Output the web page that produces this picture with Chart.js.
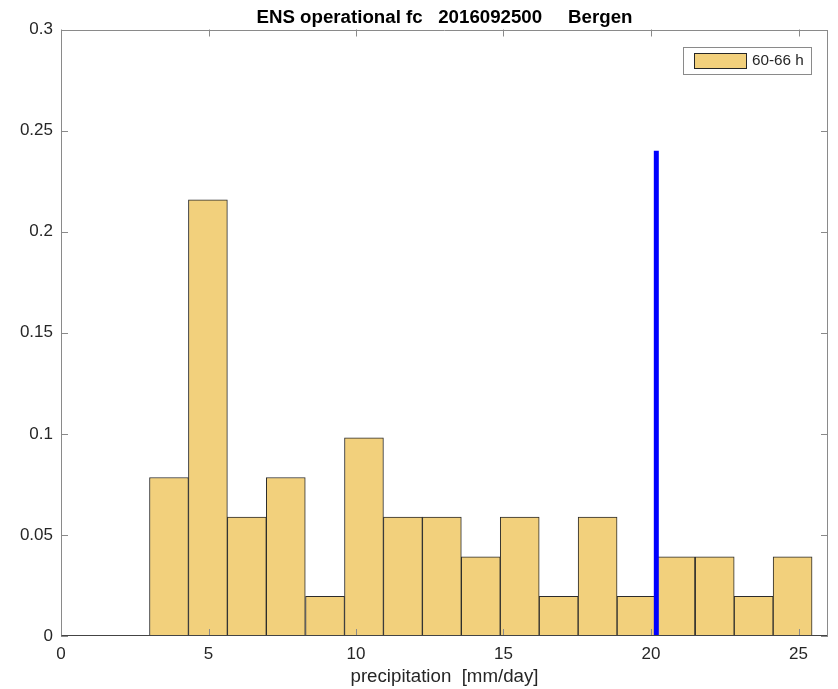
<!DOCTYPE html>
<html>
<head>
<meta charset="utf-8">
<title>ENS operational fc 2016092500 Bergen</title>
<script src="https://cdn.jsdelivr.net/npm/chart.js@4/dist/chart.umd.min.js"></script>
<style>
  html, body { margin: 0; padding: 0; background: #fff; }
  #wrap { width: 838px; height: 689px; }
</style>
</head>
<body>
<div id="wrap"><canvas id="histChart"></canvas></div>
<script>
'use strict';

// bin centres [mm/day] and relative frequency of the 51 members
const binCenters = [3.66, 4.98, 6.30, 7.62, 8.95, 10.27, 11.59, 12.91, 14.23,
  15.55, 16.87, 18.19, 19.51, 20.83, 22.16, 23.48, 24.80];
const frequencies = [0.0784, 0.2157, 0.0588, 0.0784, 0.0196, 0.0980, 0.0588, 0.0588,
  0.0392, 0.0588, 0.0196, 0.0588, 0.0196, 0.0392, 0.0392, 0.0196, 0.0392];

// observed precipitation, drawn as a vertical bar
const observedX = [20.18, 20.18];
const observedY = [0, 0.24];

const xTicks = [0, 5, 10, 15, 20, 25];
const yTicks = [0, 0.05, 0.1, 0.15, 0.2, 0.25, 0.3];

const seriesLabel = '60-66 h';
const titleText = 'ENS operational fc   2016092500     Bergen';
const xTitle = 'precipitation  [mm/day]';

const textColor = '#262626';
const fontFamily = 'Arial, "Liberation Sans", Helvetica, sans-serif';

var ctx = document.getElementById('histChart').getContext('2d');

// matlab-style box: frame on all sides, ticks pointing inwards
const boxAxes = {
  id: 'boxAxes',
  afterDatasetsDraw(chart) {
    const c = chart.ctx;
    const a = chart.chartArea;
    const xs = chart.scales.x;
    const ys = chart.scales.y;
    const len = 7;
    c.save();
    c.lineWidth = 1;
    c.strokeStyle = '#8a8a8a';
    xs.ticks.forEach(t => {
      const px = Math.round(xs.getPixelForValue(t.value)) + 0.5;
      c.beginPath();
      c.moveTo(px, a.bottom); c.lineTo(px, a.bottom - len);
      c.moveTo(px, a.top); c.lineTo(px, a.top + len);
      c.stroke();
    });
    ys.ticks.forEach(t => {
      const py = Math.round(ys.getPixelForValue(t.value)) + 0.5;
      c.beginPath();
      c.moveTo(a.left, py); c.lineTo(a.left + len, py);
      c.moveTo(a.right, py); c.lineTo(a.right - len, py);
      c.stroke();
    });
    const l = Math.round(a.left) + 0.5, r = Math.round(a.right) - 0.5;
    const t = Math.round(a.top) + 0.5, b = Math.round(a.bottom) - 0.5;
    c.beginPath();
    c.moveTo(l, b); c.lineTo(l, t); c.lineTo(r, t); c.lineTo(r, b);
    c.stroke();
    c.strokeStyle = '#444444';
    c.beginPath();
    c.moveTo(l, b); c.lineTo(r, b);
    c.stroke();
    c.restore();
  }
};

// legend box inside the upper right corner
const insideLegend = {
  id: 'insideLegend',
  afterDraw(chart) {
    const c = chart.ctx;
    const a = chart.chartArea;
    const ds = chart.data.datasets.find(d => d.type === 'bar');
    const w = 128, h = 27;
    const x0 = a.right - 17 - w;
    const y0 = a.top + 17.5;
    c.save();
    c.fillStyle = '#ffffff';
    c.fillRect(x0, y0, w, h);
    c.strokeStyle = '#8a8a8a';
    c.lineWidth = 1;
    c.strokeRect(Math.round(x0) + 0.5, Math.round(y0) + 0.5, w, h);
    c.fillStyle = ds.backgroundColor;
    c.fillRect(x0 + 11, y0 + 6, 52, 15);
    c.strokeStyle = '#262626';
    c.strokeRect(Math.round(x0 + 11) + 0.5, Math.round(y0 + 6) + 0.5, 52, 15);
    c.fillStyle = textColor;
    c.font = '15.3px ' + fontFamily;
    c.textBaseline = 'middle';
    c.fillText(ds.label, x0 + 69, y0 + h / 2 + 0.5);
    c.restore();
  }
};

var myChart = new Chart(ctx, {
  type: 'bar',
  data: {
    datasets: [
      {
        type: 'line',
        label: 'observed',
        data: observedX.map((x, i) => ({ x: x, y: observedY[i] })),
        borderColor: '#0000ff',
        borderWidth: 5,
        borderCapStyle: 'butt',
        pointRadius: 0,
        fill: false,
        order: 0
      },
      {
        type: 'bar',
        label: seriesLabel,
        data: binCenters.map((x, i) => ({ x: x, y: frequencies[i] })),
        backgroundColor: '#f2d07c',
        borderColor: '#2b2b2b',
        borderWidth: 1,
        borderSkipped: false,
        barPercentage: 1,
        categoryPercentage: 1,
        order: 1
      }
    ]
  },
  options: {
    responsive: true,
    maintainAspectRatio: false,
    animation: false,
    layout: { padding: { left: 0, right: 10, top: 0, bottom: 0 } },
    plugins: {
      legend: { display: false },
      tooltip: { enabled: false },
      title: {
        display: true,
        fullSize: false,
        text: titleText,
        color: '#000000',
        font: { family: fontFamily, size: 18.7, weight: 'bold', lineHeight: 1.2 },
        padding: { top: 6.5, bottom: 0.56 }
      }
    },
    scales: {
      x: {
        type: 'linear',
        min: 0,
        max: 26,
        offset: false,
        grid: { display: false, drawTicks: false },
        border: { display: false },
        afterBuildTicks(scale) {
          scale.ticks = xTicks.map(v => ({ value: v }));
        },
        afterFit(scale) { scale.height = 53; },
        ticks: {
          padding: 8,
          maxRotation: 0,
          autoSkip: false,
          color: textColor,
          font: { family: fontFamily, size: 17 }
        },
        title: {
          display: true,
          text: xTitle,
          color: textColor,
          font: { family: fontFamily, size: 18.7 },
          padding: { top: 0, bottom: 1 }
        }
      },
      y: {
        min: 0,
        max: 0.3,
        grid: { display: false, drawTicks: false },
        border: { display: false },
        afterBuildTicks(scale) {
          scale.ticks = yTicks.map(v => ({ value: v }));
        },
        afterFit(scale) { scale.width = 61; },
        ticks: {
          padding: 8,
          autoSkip: false,
          color: textColor,
          font: { family: fontFamily, size: 17 },
          callback: v => String(+v.toFixed(2))
        }
      }
    }
  },
  plugins: [boxAxes, insideLegend]
});
</script>
</body>
</html>
